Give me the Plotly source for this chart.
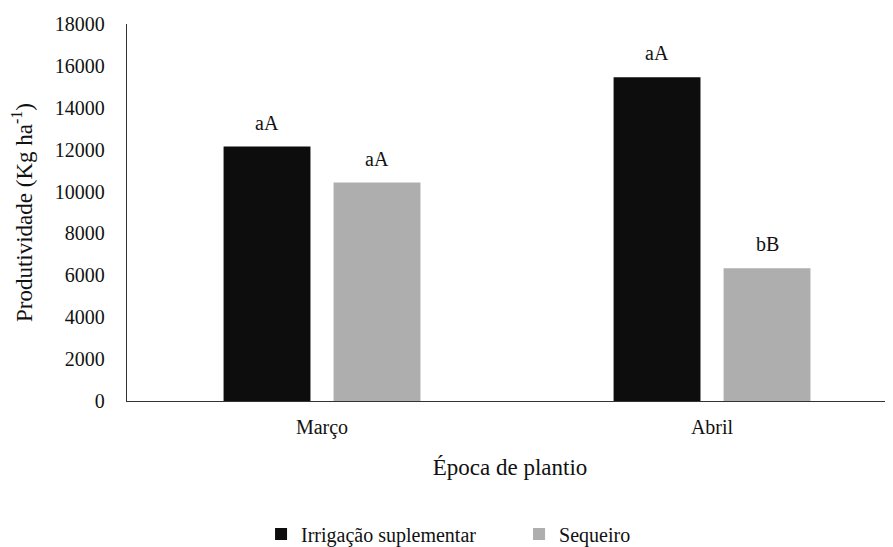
import plotly.graph_objects as go

categories = ["Março", "Abril"]
series_names = ["Irrigação suplementar", "Sequeiro"]
irrigacao = [12150, 15460]
sequeiro = [10430, 6340]
labels_irrigacao = ["aA", "aA"]
labels_sequeiro = ["aA", "bB"]
y_ticks = [0, 2000, 4000, 6000, 8000, 10000, 12000, 14000, 16000, 18000]

FONT = "Times New Roman, Liberation Serif, DejaVu Serif, serif"
BARGAP = 0.436
BARGROUPGAP = 0.21
colors = ["#0d0d0d", "#aeaeae"]
TXT = "#111111"

fig = go.Figure()
for name, vals, col in zip(series_names, [irrigacao, sequeiro], colors):
    fig.add_trace(go.Bar(
        x=categories, y=vals, name=name,
        marker=dict(color=col, line=dict(width=0)),
        hoverinfo="skip",
    ))

slot = (1 - BARGAP) / 2
offsets = [-slot / 2, slot / 2]
annotations = []
for k, (vals, labs) in enumerate([(irrigacao, labels_irrigacao), (sequeiro, labels_sequeiro)]):
    for i, (v, t) in enumerate(zip(vals, labs)):
        annotations.append(dict(
            x=i + offsets[k], y=v, xref="x", yref="y", text=t,
            showarrow=False, yanchor="bottom", yshift=11,
            font=dict(family=FONT, size=20, color=TXT),
        ))

fig.update_layout(
    width=885, height=539,
    margin=dict(l=119, r=0, t=16, b=146, autoexpand=False),
    paper_bgcolor="white", plot_bgcolor="white",
    barmode="group", bargap=BARGAP, bargroupgap=BARGROUPGAP,
    font=dict(family=FONT, size=20, color=TXT),
    annotations=annotations,
    showlegend=True,
    legend=dict(
        orientation="h", x=0.175, xanchor="left", y=-0.353, yanchor="middle",
        font=dict(family=FONT, size=20, color=TXT),
        itemwidth=30, entrywidth=213, entrywidthmode="pixels",
        bgcolor="rgba(0,0,0,0)",
    ),
    xaxis=dict(
        type="category", range=[-0.5, 1.464],
        showline=True, linecolor="#333333", linewidth=1.3,
        ticks="", showgrid=False, zeroline=False,
        ticklabelstandoff=8,
        tickfont=dict(family=FONT, size=20, color=TXT),
        title=dict(text="Época de plantio", standoff=20,
                   font=dict(family=FONT, size=23, color=TXT)),
    ),
    yaxis=dict(
        range=[0, 18000], tickvals=y_ticks,
        ticktext=[str(v) for v in y_ticks],
        showline=True, linecolor="#333333", linewidth=1.3,
        ticks="", showgrid=False, zeroline=False,
        ticklabelstandoff=17,
        tickfont=dict(family=FONT, size=20, color=TXT),
        title=dict(text="Produtividade (Kg ha<sup>-1</sup>)", standoff=18,
                   font=dict(family=FONT, size=23, color=TXT)),
    ),
)

fig.write_html("out.html")
